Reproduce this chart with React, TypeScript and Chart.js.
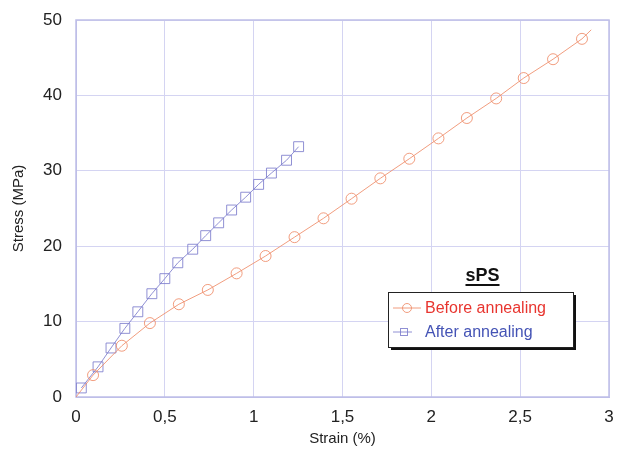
import React, { useEffect, useRef } from "react";
import { Chart, registerables } from "chart.js";

Chart.register(...registerables);

const beforeX = [0, 0.096, 0.258, 0.416, 0.579, 0.742, 0.904, 1.067, 1.23, 1.393, 1.551, 1.713, 1.876, 2.04, 2.2, 2.365, 2.52, 2.685, 2.848, 2.9];
const beforeY = [0, 2.9, 6.8, 9.8, 12.3, 14.2, 16.4, 18.7, 21.2, 23.7, 26.3, 29.0, 31.6, 34.3, 37.0, 39.6, 42.3, 44.8, 47.5, 48.7];
const afterX = [0.03, 0.124, 0.197, 0.275, 0.348, 0.427, 0.5, 0.573, 0.657, 0.73, 0.803, 0.876, 0.955, 1.028, 1.1, 1.185, 1.253];
const afterY = [1.2, 4.0, 6.5, 9.1, 11.3, 13.7, 15.7, 17.8, 19.6, 21.4, 23.1, 24.8, 26.5, 28.2, 29.7, 31.4, 33.2];
const seriesNames = ["Before annealing", "After annealing"];
const legendTitle = "sPS";
const xTitle = "Strain (%)";
const yTitle = "Stress (MPa)";

const BEFORE_COLOR = "rgba(238,140,105,0.85)";
const AFTER_COLOR = "rgba(125,125,205,0.85)";
const GRID_COLOR = "rgba(212,212,242,1)";
const FRAME_COLOR = "rgba(190,190,232,1)";
const FONT = "Arial, 'Liberation Sans', sans-serif";

export default function App() {
  const ref = useRef<HTMLCanvasElement | null>(null);
  useEffect(() => {
    if (!ref.current) return;
    const beforeData = beforeX.map((x, i) => ({ x, y: beforeY[i] }));
    const afterData = afterX.map((x, i) => ({ x, y: afterY[i] }));
    const beforeRadius = beforeX.map((_, i) => (i === 0 || i === beforeX.length - 1 ? 0 : 5.5));

    const overlay = {
      id: "overlay",
      afterDraw(chart: any) {
        const ctx = chart.ctx;
        const area = chart.chartArea;
        ctx.save();
        ctx.fillStyle = "#222";
        ctx.font = "15px " + FONT;
        ctx.textAlign = "center";
        ctx.textBaseline = "middle";
        ctx.fillText(xTitle, (area.left + area.right) / 2, 439);
        ctx.translate(19, (area.top + area.bottom) / 2);
        ctx.rotate(-Math.PI / 2);
        ctx.fillText(yTitle, 0, 0);
        ctx.restore();

        // legend
        ctx.save();
        const lx = 388, ly = 292, lw = 185, lh = 55;
        ctx.fillStyle = "#111";
        ctx.fillRect(lx + 3, ly + 3, lw, lh);
        ctx.fillStyle = "#fff";
        ctx.fillRect(lx, ly, lw, lh);
        ctx.strokeStyle = "#222";
        ctx.lineWidth = 1;
        ctx.strokeRect(lx + 0.5, ly + 0.5, lw, lh);

        ctx.fillStyle = "#111";
        ctx.font = "bold 18px " + FONT;
        ctx.textAlign = "center";
        ctx.textBaseline = "middle";
        const cx = lx + lw / 2 + 2;
        ctx.fillText(legendTitle, cx, 276);
        const tw = ctx.measureText(legendTitle).width;
        ctx.fillRect(cx - tw / 2, 284, tw, 2);

        ctx.strokeStyle = BEFORE_COLOR;
        ctx.beginPath();
        ctx.moveTo(393, 308);
        ctx.lineTo(421, 308);
        ctx.stroke();
        ctx.beginPath();
        ctx.arc(407, 308, 4.5, 0, Math.PI * 2);
        ctx.stroke();
        ctx.font = "16px " + FONT;
        ctx.textAlign = "left";
        ctx.fillStyle = "#e8352f";
        ctx.fillText(seriesNames[0], 425, 309);

        ctx.strokeStyle = AFTER_COLOR;
        ctx.beginPath();
        ctx.moveTo(393, 332);
        ctx.lineTo(412, 332);
        ctx.stroke();
        ctx.strokeRect(400.5, 328.5, 7, 7);
        ctx.fillStyle = "#4453b5";
        ctx.fillText(seriesNames[1], 425, 333);
        ctx.restore();
      },
    };

    const chart = new Chart(ref.current, {
      type: "scatter",
      data: {
        datasets: [
          {
            label: seriesNames[0],
            data: beforeData,
            showLine: true,
            borderColor: BEFORE_COLOR,
            backgroundColor: "rgba(0,0,0,0)",
            borderWidth: 1,
            pointStyle: "circle",
            pointRadius: beforeRadius,
            pointBorderWidth: 1,
            pointBorderColor: BEFORE_COLOR,
          },
          {
            label: seriesNames[1],
            data: afterData,
            showLine: true,
            borderColor: AFTER_COLOR,
            backgroundColor: "rgba(0,0,0,0)",
            borderWidth: 1,
            pointStyle: "rect",
            pointRadius: 7,
            pointBorderWidth: 1,
            pointBorderColor: AFTER_COLOR,
          },
        ],
      },
      options: {
        animation: false,
        responsive: false,
        maintainAspectRatio: false,
        layout: { padding: { top: 20, right: 7, left: 0, bottom: 0 } },
        plugins: { legend: { display: false }, tooltip: { enabled: false } },
        scales: {
          x: {
            type: "linear",
            min: 0,
            max: 3,
            afterFit(scale: any) {
              scale.height = 52;
              scale.paddingLeft = 0;
              scale.paddingRight = 0;
            },
            ticks: {
              stepSize: 0.5,
              color: "#222",
              font: { size: 17, family: FONT },
              padding: 10,
              callback: (v: any) => String(v).replace(".", ","),
            },
            grid: {
              color: GRID_COLOR,
              lineWidth: 1,
              drawTicks: false,
            },
            border: { display: true, color: FRAME_COLOR },
          },
          y: {
            type: "linear",
            min: 0,
            max: 50,
            afterFit(scale: any) {
              scale.width = 76;
              scale.paddingTop = 0;
              scale.paddingBottom = 0;
            },
            ticks: {
              stepSize: 10,
              color: "#222",
              font: { size: 17, family: FONT },
              padding: 14,
            },
            grid: {
              color: GRID_COLOR,
              lineWidth: 1,
              drawTicks: false,
            },
            border: { display: true, color: FRAME_COLOR },
          },
        },
      },
      plugins: [
        overlay,
        {
          id: "frame",
          beforeDatasetsDraw(chart: any) {
            const { ctx, chartArea: a } = chart;
            ctx.save();
            ctx.strokeStyle = FRAME_COLOR;
            ctx.lineWidth = 1.5;
            ctx.strokeRect(a.left, a.top, a.right - a.left, a.bottom - a.top);
            ctx.restore();
          },
        },
      ],
    } as any);
    return () => chart.destroy();
  }, []);

  return (
    <div style={{ position: "absolute", left: 0, top: 0, width: 617, height: 449, background: "#fff" }}>
      <canvas ref={ref} width={617} height={449} style={{ width: 617, height: 449 }} />
    </div>
  );
}
